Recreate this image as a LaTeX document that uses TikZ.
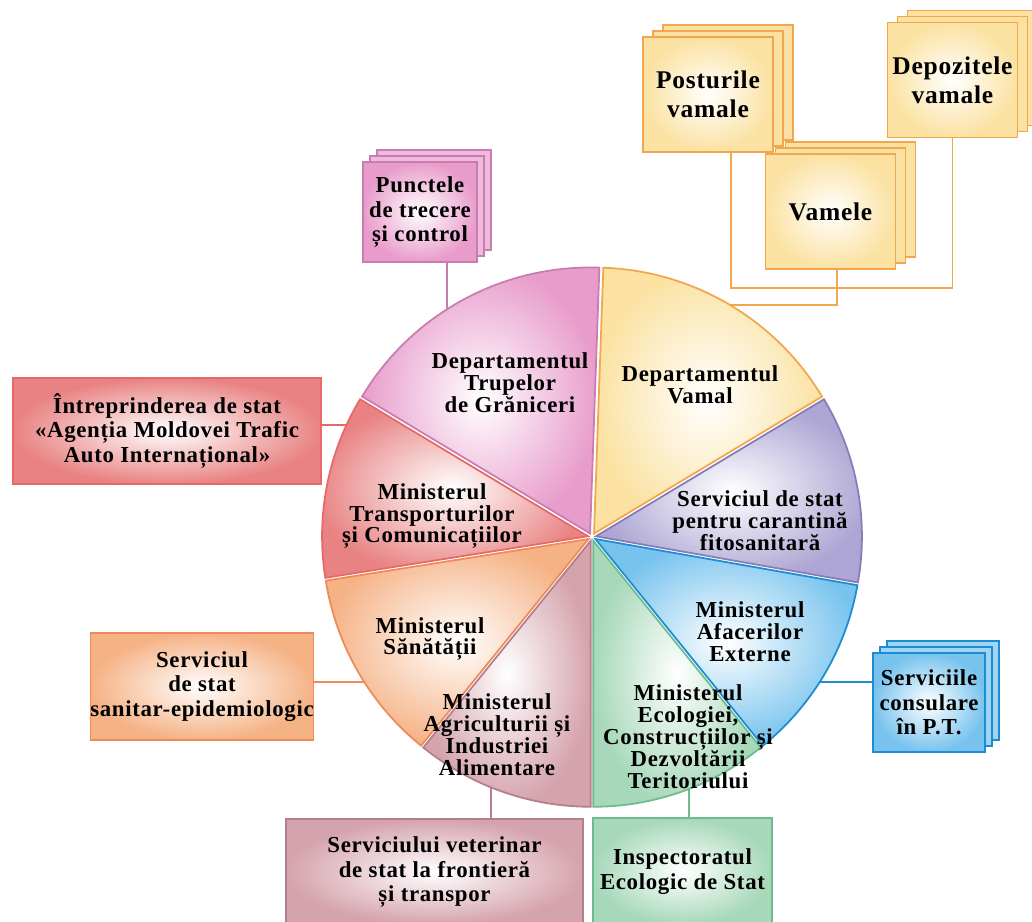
\documentclass[tikz,border=0pt]{standalone}
\usepackage{fontspec}
\setmainfont{Liberation Serif}[LetterSpace=3]
\usepackage{tikz}
\usetikzlibrary{shadows}

\definecolor{grnfill}{HTML}{E89CCB}
\definecolor{grnline}{HTML}{C77DB0}
\definecolor{vamfill}{HTML}{FBE2A2}
\definecolor{vamline}{HTML}{F2A64E}
\definecolor{carfill}{HTML}{ADA5D3}
\definecolor{carline}{HTML}{877CB6}
\definecolor{afefill}{HTML}{78C3EE}
\definecolor{afeline}{HTML}{1C8DD2}
\definecolor{ecofill}{HTML}{A6D8B9}
\definecolor{ecoline}{HTML}{6DBB8E}
\definecolor{agrfill}{HTML}{D5A3AD}
\definecolor{agrline}{HTML}{B37F8A}
\definecolor{sanfill}{HTML}{F5B285}
\definecolor{sanline}{HTML}{EF8A5A}
\definecolor{trafill}{HTML}{E98383}
\definecolor{traline}{HTML}{E66868}

% o felie a cercului: unghi start, unghi final, culoare
\newcommand{\felie}[3]{%
	\shadedraw[shift={({(#1+#2)/2}:4)}, inner color=white, outer color=#3fill, draw=#3line, line width=1pt]
	(0,0) -- (#1:266) arc[start angle=#1, end angle=#2, radius=266] -- cycle;
}

\begin{document}
\begin{tikzpicture}[x=0.02cm, y=0.02cm,
	felietxt/.style={align=center, font=\bfseries\fontsize{13}{12.5}\selectfont},
	cutie/.style={draw=#1line, line width=0.8pt, inner color=white, outer color=#1fill,
		align=center, inner sep=0pt, font=\bfseries\fontsize{13}{14}\selectfont},
	teanc/.style={double copy shadow={shadow xshift=0.14cm, shadow yshift=0.12cm, fill=#1fill!70!white, draw=#1line}},
	vamcutie/.style={cutie=vam, font=\bfseries\fontsize{14.5}{16.5}\selectfont,
		double copy shadow={shadow xshift=0.2cm, shadow yshift=0.12cm, fill=vamfill, draw=vamline},
		minimum width=2.6cm, minimum height=2.3cm},
	legatura/.style={draw=#1line, line width=1.1pt}
	]
	\useasboundingbox (0,0) rectangle (1032,921);
	\clip (0,0) rectangle (1032,921);
	
	% cutiile de sub-nivel
	\node[cutie=grn, teanc=grn, minimum width=2.28cm, minimum height=2cm] (pct) at (420,709) {Punctele\\de trecere\\și control};
	\node[vamcutie] (pst) at (708,826.5) {Posturile\\vamale};
	\node[vamcutie] (dep) at (952.5,841) {Depozitele\\vamale};
	\node[vamcutie] (vml) at (830.5,709.5) {Vamele};
	\node[cutie=tra, minimum width=6.16cm, minimum height=2.12cm] (intr) at (167,490) {Întreprinderea de stat\\«Agenția Moldovei Trafic\\Auto Internațional»};
	\node[cutie=san, minimum width=4.36cm, minimum height=2.14cm] (sntr) at (202,234.5) {Serviciul\\de stat\\sanitar-epidemiologic};
	\node[cutie=agr, minimum width=5.94cm, minimum height=2.12cm] (vet) at (434.5,49) {Serviciului veterinar\\de stat la frontieră\\și transpor};
	\node[cutie=eco, minimum width=3.58cm, minimum height=2.14cm] (ins) at (682.5,49.5) {Inspectoratul\\Ecologic de Stat};
	\node[cutie=afe, teanc=afe, minimum width=2.24cm, minimum height=1.98cm] (cons) at (929,218.5) {Serviciile\\consulare\\în P.T.};
	
	% capetele legaturilor, in interiorul cercului
	\coordinate (grnin) at (447,600);
	\coordinate (vamin) at (720,616);
	\coordinate (train) at (380,496);
	\coordinate (sanin) at (385,239);
	\coordinate (agrin) at (491,150);
	\coordinate (ecoin) at (689,150);
	\coordinate (afein) at (800,239);
	
	% legaturile
	\draw[legatura=grn] (grnin |- pct.south) -- (grnin);
	\draw[legatura=vam] ([xshift=0.13cm]vml.south) -- ([xshift=0.13cm]vml.south |- vamin) -- (vamin);
	\draw[legatura=vam] ([xshift=0.46cm]pst.south) -- ++(0,-135) -| (dep.south);
	\draw[legatura=tra] (train -| intr.east) -- (train);
	\draw[legatura=san] (sanin -| sntr.east) -- (sanin);
	\draw[legatura=agr] (agrin |- vet.north) -- (agrin);
	\draw[legatura=eco] (ecoin |- ins.north) -- (ecoin);
	\draw[legatura=afe] (afein) -- (afein -| cons.west);
	
	% cercul cu cele opt felii
	\begin{scope}[shift={(592,384)}]
		\felie{88}{149}{grn}
		\felie{31}{88}{vam}
		\felie{-10}{31}{car}
		\felie{-51}{-10}{afe}
		\felie{-90}{-51}{eco}
		\felie{-129}{-90}{agr}
		\felie{-171}{-129}{san}
		\felie{149}{189}{tra}
	\end{scope}
	
	% textele din felii
	\node[felietxt] (grn) at (510,538) {Departamentul\\Trupelor\\de Grăniceri};
	\node[felietxt] (vam) at (700,536) {Departamentul\\Vamal};
	\node[felietxt] (car) at (760,400) {Serviciul de stat\\pentru carantină\\fitosanitară};
	\node[felietxt] (tra) at (432,405) {Ministerul\\Transporturilor\\și Comunicațiilor};
	\node[felietxt] (san) at (430,282) {Ministerul\\Sănătății};
	\node[felietxt] (agr) at (497,186) {Ministerul\\Agriculturii și\\Industriei\\Alimentare};
	\node[felietxt] (eco) at (688,184) {Ministerul\\Ecologiei,\\Construcțiilor și\\Dezvoltării\\Teritoriului};
	\node[felietxt] (afe) at (750,289) {Ministerul\\Afacerilor\\Externe};
\end{tikzpicture}
\end{document}
